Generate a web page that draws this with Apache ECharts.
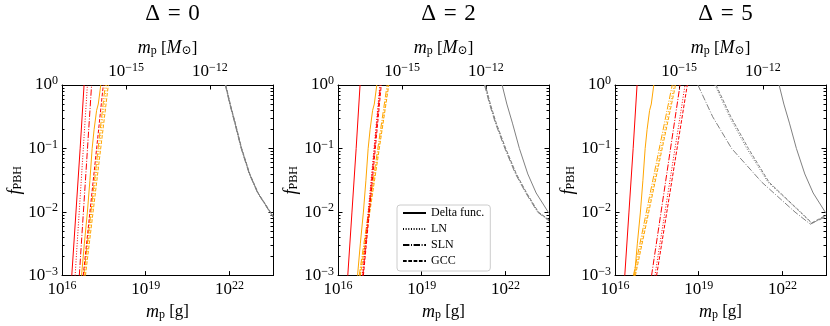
<!DOCTYPE html>
<html>
<head>
<meta charset="utf-8">
<script src="https://cdn.jsdelivr.net/npm/echarts@6/dist/echarts.min.js"></script>
<style>
  html, body { margin: 0; padding: 0; background: #fff; }
  #chart { width: 830px; height: 326px; }
</style>
</head>
<body>
<div id="chart"></div>
<script>
// every point is [log10(m_p / g), log10(f_PBH)]
const panelTitles = ['Δ\u2004=\u20040', 'Δ\u2004=\u20042', 'Δ\u2004=\u20045'];
const massTicks = [16, 19, 22];          // log10 m_p [g]
const solarTicks = [-15, -12];           // log10 m_p [M_sun]
const LOG_MSUN = 33.2986;                // log10(1.989e33 g)
const fTicks = [-3, -2, -1, 0];
const X_MIN = 16, X_MAX = 23.56;

// delta function constraints, same in all panels
const redDelta = [[16.35, -3], [16.50, -2], [16.65, -1], [16.79, 0]];
const orangeDelta = [[16.70, -3], [16.80, -2.5], [16.91, -2], [17.00, -1.5], [17.08, -1],
  [17.15, -0.7], [17.24, -0.4], [17.30, -0.3], [17.39, 0]];
const greyDelta = [[21.88, 0], [22.05, -0.3], [22.25, -0.6], [22.50, -1.0], [22.80, -1.4],
  [23.10, -1.7], [23.56, -2.02]];

// extended mass functions, one entry per panel (Δ = 0, 2, 5)
const redLN = [
  [[16.47, -3], [16.91, 0]],
  [[16.87, -3], [17.50, 0]],
  [[17.43, -3], [18.51, 0]]
];
const redSLN = [
  [[16.62, -3], [17.06, 0]],
  [[16.89, -3], [17.52, 0]],
  [[17.31, -3], [18.33, 0]]
];
const redGCC = [
  [[16.76, -3], [17.48, 0]],
  [[16.91, -3], [17.55, 0]],
  [[17.49, -3], [18.59, 0]]
];
const orangeLN = [
  [[16.80, -3], [17.60, 0]],
  [[16.78, -3], [17.80, 0]],
  [[16.70, -3], [18.12, 0]]
];
const orangeSLN = [
  [[16.78, -3], [17.55, 0]],
  [[16.76, -3], [17.76, 0]],
  [[16.66, -3], [18.05, 0]]
];
const orangeGCC = [
  [[16.84, -3], [17.66, 0]],
  [[16.80, -3], [17.82, 0]],
  [[16.73, -3], [18.17, 0]]
];
const greyLN = [
  [[21.86, 0], [22.02, -0.3], [22.20, -0.6], [22.43, -1.0], [22.72, -1.4], [23.02, -1.7], [23.56, -2.07]],
  [[21.27, 0], [21.45, -0.3], [21.66, -0.6], [22.00, -1.0], [22.38, -1.4], [22.75, -1.7], [23.17, -2.0], [23.56, -2.13]],
  [[19.58, 0], [20.10, -0.5], [20.72, -1], [21.48, -1.53], [22.63, -2], [23.05, -2.18], [23.56, -2.06]]
];
const greySLN = [
  [[21.85, 0], [22.01, -0.3], [22.19, -0.6], [22.42, -1.0], [22.71, -1.4], [23.01, -1.7], [23.56, -2.08]],
  [[21.25, 0], [21.43, -0.3], [21.64, -0.6], [21.98, -1.0], [22.36, -1.4], [22.73, -1.7], [23.15, -2.0], [23.56, -2.14]],
  [[18.97, 0], [19.50, -0.5], [20.18, -1], [21.26, -1.53], [22.45, -2], [23.00, -2.19], [23.56, -2.07]]
];
const greyGCC = [
  [[21.87, 0], [22.03, -0.3], [22.21, -0.6], [22.44, -1.0], [22.73, -1.4], [23.03, -1.7], [23.56, -2.06]],
  [[21.28, 0], [21.46, -0.3], [21.67, -0.6], [22.01, -1.0], [22.39, -1.4], [22.76, -1.7], [23.18, -2.0], [23.56, -2.12]],
  [[19.62, 0], [20.15, -0.5], [20.78, -1], [21.52, -1.53], [22.65, -2], [23.05, -2.17], [23.56, -2.05]]
];

const legendNames = ['Delta func.', 'LN', 'SLN', 'GCC'];

const SERIF = '"Liberation Serif", "DejaVu Serif", serif';
const RED = '#ff0000', ORANGE = '#ffa500', GREY = '#808080';
const DASH = {
  solid: 'solid',
  LN: [1, 1.65],
  SLN: [6.4, 1.6, 1, 1.6],
  GCC: [3.7, 1.6]
};
const GRID_LEFT = [62, 338, 615];
const GRID_TOP = 85, GRID_W = 211, GRID_H = 192;

// minor ticks of the log y axis (2..9 x 10^n)
const minorF = [];
for (let n = -3; n < 0; n++) {
  for (let k = 2; k <= 9; k++) minorF.push(n + Math.log10(k));
}

const fmtExp = v => '{b|10}{e|' + String(Math.round(v)).replace('-', '−') + '}';
const richLabel = {
  b: { fontFamily: SERIF, fontSize: 17, color: '#000', lineHeight: 20 },
  e: { fontFamily: SERIF, fontSize: 12, color: '#000', verticalAlign: 'top', lineHeight: 12 }
};
const richName = {
  i: { fontFamily: SERIF, fontSize: 18, fontStyle: 'italic', color: '#000' },
  s: { fontFamily: SERIF, fontSize: 12, color: '#000', verticalAlign: 'bottom', padding: [6, 0, 0, 0] },
  n: { fontFamily: SERIF, fontSize: 17, color: '#000' }
};

const grids = [], xAxes = [], yAxes = [], titles = [], series = [];
const blackLine = { show: true, onZero: false, lineStyle: { color: '#000', width: 1 } };

GRID_LEFT.forEach((left, g) => {
  grids.push({ left, top: GRID_TOP, width: GRID_W, height: GRID_H, containLabel: false });
  titles.push({
    text: panelTitles[g], left: left + GRID_W / 2, top: -3, textAlign: 'center',
    textStyle: { fontFamily: SERIF, fontSize: 23, fontWeight: 'normal', color: '#000' }
  });

  // bottom: grams
  xAxes.push({
    type: 'value', gridIndex: g, position: 'bottom', min: X_MIN, max: X_MAX,
    axisLine: blackLine,
    axisTick: { inside: true, length: 4.5, customValues: massTicks, lineStyle: { color: '#000' } },
    axisLabel: { customValues: massTicks, formatter: fmtExp, rich: richLabel, margin: 4 },
    splitLine: { show: false },
    name: '{i|m}{s|p}{n| [g]}', nameLocation: 'middle', nameGap: 27,
    nameTextStyle: { rich: richName }
  });
  // top: solar masses
  const solarPos = solarTicks.map(v => v + LOG_MSUN);
  xAxes.push({
    type: 'value', gridIndex: g, position: 'top', min: X_MIN, max: X_MAX,
    axisLine: blackLine,
    axisTick: { inside: true, length: 4.5, customValues: solarPos, lineStyle: { color: '#000' } },
    axisLabel: { customValues: solarPos, formatter: v => fmtExp(v - LOG_MSUN), rich: richLabel, margin: 3 },
    splitLine: { show: false },
    name: '{i|m}{s|p}{n| [}{i|M}{s|⊙}{n|]}', nameLocation: 'middle', nameGap: 24,
    nameTextStyle: { rich: richName }
  });

  const yBase = { type: 'value', gridIndex: g, min: -3, max: 0, splitLine: { show: false } };
  yAxes.push(Object.assign({}, yBase, {
    position: 'left', axisLine: blackLine,
    axisTick: { inside: true, length: 4.5, customValues: fTicks, lineStyle: { color: '#000' } },
    axisLabel: { customValues: fTicks, formatter: fmtExp, rich: richLabel, margin: 4 },
    name: '{i|f}{s|PBH}', nameLocation: 'middle', nameGap: 38, nameRotate: 90,
    nameTextStyle: { rich: richName }
  }));
  yAxes.push(Object.assign({}, yBase, {
    position: 'left', axisLine: { show: false, onZero: false },
    axisTick: { inside: true, length: 2.5, customValues: minorF, lineStyle: { color: '#000' } },
    axisLabel: { show: false }
  }));
  yAxes.push(Object.assign({}, yBase, {
    position: 'right', axisLine: blackLine,
    axisTick: { inside: true, length: 4.5, customValues: fTicks, lineStyle: { color: '#000' } },
    axisLabel: { show: false }
  }));
  yAxes.push(Object.assign({}, yBase, {
    position: 'right', axisLine: { show: false, onZero: false },
    axisTick: { inside: true, length: 2.5, customValues: minorF, lineStyle: { color: '#000' } },
    axisLabel: { show: false }
  }));

  const add = (name, data, color, dash) => series.push({
    name: name + '-' + g, type: 'line', xAxisIndex: g * 2, yAxisIndex: g * 4,
    data, symbol: 'none', showSymbol: false, silent: true, animation: false,
    lineStyle: { color, width: 1, type: dash }, itemStyle: { color }
  });

  add('grey-LN', greyLN[g], GREY, DASH.LN);
  add('grey-SLN', greySLN[g], GREY, DASH.SLN);
  add('grey-GCC', greyGCC[g], GREY, DASH.GCC);
  add('grey-delta', g === 0 ? greyLN[0] : greyDelta, GREY, DASH.solid);
  add('orange-LN', orangeLN[g], ORANGE, DASH.LN);
  add('orange-SLN', orangeSLN[g], ORANGE, DASH.SLN);
  add('orange-GCC', orangeGCC[g], ORANGE, DASH.GCC);
  add('orange-delta', orangeDelta, ORANGE, DASH.solid);
  add('red-LN', redLN[g], RED, DASH.LN);
  add('red-SLN', redSLN[g], RED, DASH.SLN);
  add('red-GCC', redGCC[g], RED, DASH.GCC);
  add('red-delta', redDelta, RED, DASH.solid);
});

// legend-only black entries in the middle panel
[DASH.solid, DASH.LN, DASH.SLN, DASH.GCC].forEach((dash, i) => {
  series.push({
    name: legendNames[i], type: 'line', xAxisIndex: 2, yAxisIndex: 4, data: [],
    symbol: 'none', lineStyle: { color: '#000', width: 1.5, type: dash },
    itemStyle: { color: '#000', opacity: 0 }
  });
});

const chart = echarts.init(document.getElementById('chart'), null, { renderer: 'canvas' });
chart.setOption({
  animation: false,
  backgroundColor: '#fff',
  title: titles,
  grid: grids,
  xAxis: xAxes,
  yAxis: yAxes,
  legend: {
    data: legendNames, orient: 'vertical', left: 397, top: 205,
    itemWidth: 23, itemHeight: 14, itemGap: 4,
    padding: [2, 6, 4, 5],
    itemStyle: { opacity: 0 },
    backgroundColor: '#fff', borderColor: '#cccccc', borderWidth: 1, borderRadius: 3,
    textStyle: { fontFamily: SERIF, fontSize: 12, color: '#000' },
    selectedMode: false
  },
  series
});
</script>
</body>
</html>
